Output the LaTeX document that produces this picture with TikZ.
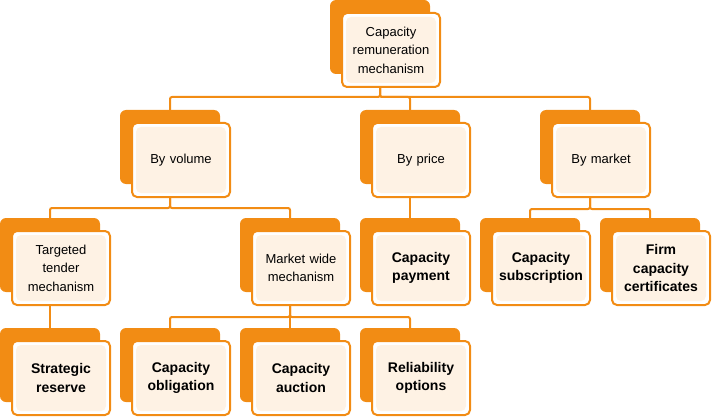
\documentclass[tikz,border=0pt]{standalone}
\usepackage{fontspec}
\setmainfont{Liberation Sans}
\usetikzlibrary{backgrounds}
\definecolor{boxorange}{RGB}{242,140,20}
\definecolor{boxcream}{RGB}{254,242,228}
\tikzstyle{back} = [rectangle, rounded corners=6pt, minimum width=100pt,
minimum height=74pt, inner sep=0pt, fill=boxorange]
\tikzstyle{front} = [rectangle, rounded corners=5pt, minimum width=98pt,
minimum height=74pt, inner sep=2pt, text width=92pt, align=center,
draw=boxorange, line width=2pt, fill=white, xshift=11pt, yshift=-13pt,
path picture={\fill[boxcream] ([shift={(4pt,4pt)}]path picture bounding box.south west)
rectangle ([shift={(-4pt,-4pt)}]path picture bounding box.north east);},
font=\fontsize{13}{18.5}\selectfont]
\tikzstyle{strong} = [font=\fontsize{14}{18.5}\selectfont\bfseries]
\tikzstyle{link} = [draw=boxorange, line width=2pt, rounded corners=2pt]

\begin{document}
\begin{tikzpicture}[x=1pt, y=1pt]
  \useasboundingbox (0,0) rectangle (712,-417);

  \node (root) [back] at (380,-37) {};
  \node (rootf) [front] at (root) {Capacity\\ remuneration\\ mechanism};

  \node (vol) [back] at (170,-147) {};
  \node (volf) [front] at (vol) {By volume};
  \node (prc) [back] at (410,-147) {};
  \node (prcf) [front] at (prc) {By price};
  \node (mkt) [back] at (590,-147) {};
  \node (mktf) [front] at (mkt) {By market};

  \node (tgt) [back] at (50,-255) {};
  \node (tgtf) [front] at (tgt) {Targeted\\ tender\\ mechanism};
  \node (mwm) [back] at (290,-255) {};
  \node (mwmf) [front] at (mwm) {Market wide\\ mechanism};
  \node (pay) [back] at (410,-255) {};
  \node (payf) [front, strong] at (pay) {Capacity\\ payment};
  \node (sub) [back] at (530,-255) {};
  \node (subf) [front, strong] at (sub) {Capacity\\ subscription};
  \node (fcc) [back] at (650,-255) {};
  \node (fccf) [front, strong] at (fcc) {Firm\\ capacity\\ certificates};

  \node (str) [back] at (50,-365) {};
  \node (strf) [front, strong] at (str) {Strategic\\ reserve};
  \node (obl) [back] at (170,-365) {};
  \node (oblf) [front, strong] at (obl) {Capacity\\ obligation};
  \node (auc) [back] at (290,-365) {};
  \node (aucf) [front, strong] at (auc) {Capacity\\ auction};
  \node (rel) [back] at (410,-365) {};
  \node (relf) [front, strong] at (rel) {Reliability\\ options};

  \begin{scope}[on background layer]
    \draw [link] (root) -- ++(0,-60) -| (vol);
    \draw [link] (root) -- ++(0,-60) -| (prc);
    \draw [link] (root) -- ++(0,-60) -| (mkt);
    \draw [link] (vol) -- ++(0,-61) -| (tgt);
    \draw [link] (vol) -- ++(0,-61) -| (mwm);
    \draw [link] (prc) -- (pay);
    \draw [link] (mkt) -- ++(0,-62) -| (sub);
    \draw [link] (mkt) -- ++(0,-62) -| (fcc);
    \draw [link] (tgt) -- (str);
    \draw [link] (mwm) -- ++(0,-62) -| (obl);
    \draw [link] (mwm) -- ++(0,-62) -| (auc);
    \draw [link] (mwm) -- ++(0,-62) -| (rel);
  \end{scope}
\end{tikzpicture}
\end{document}
